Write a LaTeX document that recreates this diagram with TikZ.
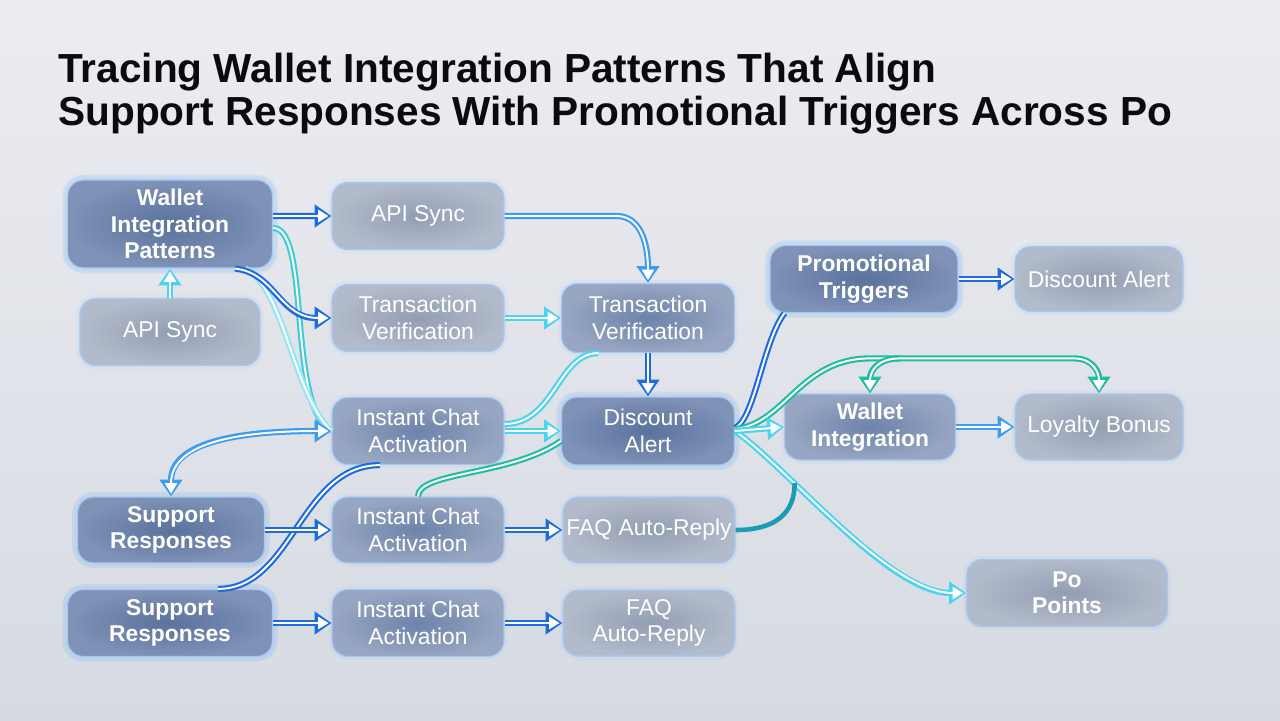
\documentclass[tikz,border=0pt]{standalone}
\usepackage{fontspec}
\setmainfont{Liberation Sans}
\usepackage{tikz}
\usetikzlibrary{positioning, arrows.meta}

\definecolor{bgtop}{HTML}{ECEDF1}
\definecolor{bgbot}{HTML}{D6DAE2}
\definecolor{edgeblue}{HTML}{A8C8F2}
\definecolor{glasslo}{HTML}{949EB3}
\definecolor{glasshi}{HTML}{B2BBCB}
\definecolor{mistlo}{HTML}{6E83AA}
\definecolor{misthi}{HTML}{97A6C2}
\definecolor{deeplo}{HTML}{5A729D}
\definecolor{deephi}{HTML}{7F92B7}
\definecolor{wblue}{HTML}{1D6BE0}
\definecolor{sky}{HTML}{3C9CF0}
\definecolor{cyanw}{HTML}{4CD3EE}
\definecolor{tealw}{HTML}{20BDA0}
\definecolor{deepteal}{HTML}{1A9DB0}
\definecolor{titleink}{HTML}{0B0B0E}

\begin{document}
\begin{tikzpicture}[
        x=0.02cm, y=-0.02cm,
        card/.style={rectangle, rounded corners=9pt, draw=edgeblue, line width=0.7pt, text=white, align=center, inner sep=2pt, font=\fontsize{13}{15}\selectfont, preaction={draw=sky!50!white, line width=4pt, draw opacity=0.15}},
        glass/.style={card, inner color=glasslo, outer color=glasshi},
        mist/.style={card, inner color=mistlo, outer color=misthi},
        deep/.style={card, inner color=deeplo, outer color=deephi, preaction={draw=sky, line width=6pt, draw opacity=0.12}},
        heavy/.style={font=\fontsize{13}{15}\selectfont\bfseries},
        wire/.style={draw=white, line width=1.1pt, preaction={draw=#1, line width=3.5pt}},
        feed/.style={draw=white, line width=1.1pt, -{Triangle[length=6pt, width=7pt, sep=1.6pt]}, preaction={draw=#1, line width=3.5pt, -{Triangle[length=9.5pt, width=12.5pt]}}},
        twofeed/.style={draw=white, line width=1.1pt, {Triangle[length=6pt, width=7pt, sep=1.6pt]}-{Triangle[length=6pt, width=7pt, sep=1.6pt]}, preaction={draw=#1, line width=3.5pt, {Triangle[length=9.5pt, width=12.5pt]}-{Triangle[length=9.5pt, width=12.5pt]}}}
    ]
%
    \useasboundingbox (0,0) rectangle (1280,720);
    \fill[top color=bgtop, bottom color=bgbot] (0,0) rectangle (1280,720);
%
    % Title
    \node[anchor=north west, inner sep=0pt, align=left, text=titleink, font=\fontsize{23.1}{24.5}\selectfont\bfseries] (title) at (58,53) {Tracing Wallet Integration Patterns That Align\\Support Responses With Promotional Triggers Across Po};
%
    % Nodes
    \node[deep, heavy, minimum width=4.1cm, minimum height=1.76cm] (wip) at (170,224) {Wallet\\Integration\\Patterns};
    \node[glass, minimum width=3.44cm, minimum height=1.34cm] (api1) at (418,216) {API Sync};
    \node[glass, minimum width=3.6cm, minimum height=1.34cm] (api2) at (170,332) {API Sync};
    \node[glass, minimum width=3.44cm, minimum height=1.34cm] (tv1) at (418,318) {Transaction\\Verification};
    \node[mist, minimum width=3.46cm, minimum height=1.38cm] (tv2) at (648,318) {Transaction\\Verification};
    \node[mist, minimum width=3.44cm, minimum height=1.34cm] (ica1) at (418,431) {Instant Chat\\Activation};
    \node[deep, minimum width=3.46cm, minimum height=1.36cm] (da) at (648,431) {Discount\\Alert};
    \node[deep, heavy, minimum width=3.76cm, minimum height=1.34cm] (pt) at (864,279) {Promotional\\Triggers};
    \node[glass, minimum width=3.36cm, minimum height=1.3cm] (da2) at (1099,279) {Discount Alert};
    \node[mist, heavy, minimum width=3.42cm, minimum height=1.32cm] (wi) at (870,427) {Wallet\\Integration};
    \node[glass, minimum width=3.36cm, minimum height=1.32cm] (lb) at (1099,427) {Loyalty Bonus};
    \node[deep, heavy, minimum width=3.74cm, minimum height=1.32cm] (sr1) at (171,530) {Support\\Responses};
    \node[mist, minimum width=3.44cm, minimum height=1.32cm] (ica2) at (418,530) {Instant Chat\\Activation};
    \node[glass, minimum width=3.44cm, minimum height=1.32cm] (faq1) at (649,530) {FAQ Auto-Reply};
    \node[deep, heavy, minimum width=4.1cm, minimum height=1.34cm] (sr2) at (170,623) {Support\\Responses};
    \node[mist, minimum width=3.44cm, minimum height=1.34cm] (ica3) at (418,623) {Instant Chat\\Activation};
    \node[glass, minimum width=3.44cm, minimum height=1.32cm] (faq2) at (649,623) {FAQ\\Auto-Reply};
    \node[glass, heavy, minimum width=4.02cm, minimum height=1.34cm] (po) at (1067,593) {Po\\Points};
%
    % Arrows
    \draw[feed=wblue] ([yshift=0.16cm]wip.east) -- (api1.west);
    \draw[feed=cyanw] (api2.north) -- (wip.south);
    \draw[wire=cyanw!70!tealw] ([yshift=-0.08cm]wip.east) .. controls +(38,0) and +(-45,-25) .. (ica1.west);
    \draw[wire=cyanw!60] ([xshift=1.5cm]wip.south) .. controls +(40,20) and +(-40,-40) .. (ica1.west);
    \draw[feed=wblue] ([xshift=1.3cm]wip.south) .. controls +(40,4) and +(-52,0) .. (tv1.west);
    \draw[feed=sky] (api1.east) -- +(112,0) .. controls +(28,0) and +(0,-30) .. (tv2.north);
    \draw[feed=cyanw] (tv1.east) -- (tv2.west);
    \draw[feed=wblue] (tv2.south) -- (da.north);
    \draw[wire=cyanw] ([yshift=0.14cm]ica1.east) .. controls +(50,0) and +(-40,0) .. ([xshift=-1cm]tv2.south);
    \draw[feed=cyanw] (ica1.east) -- (da.west);
    \draw[wire=tealw] (ica2.north) .. controls +(0,-25) and +(-50,35) .. ([yshift=-0.2cm]da.west);
    \draw[wire=wblue] ([xshift=0.96cm]sr2.north) .. controls +(75,0) and +(-80,0) .. ([xshift=-0.76cm]ica1.south);
    \draw[twofeed=sky] (sr1.north) .. controls +(0,-55) and +(-90,0) .. (ica1.west);
    \draw[feed=wblue] (sr1.east) -- (ica2.west);
    \draw[feed=wblue] (ica2.east) -- (faq1.west);
    \draw[feed=wblue] (sr2.east) -- (ica3.west);
    \draw[feed=wblue] (ica3.east) -- (faq2.west);
%
    % Fan out of the discount alert
    \draw[wire=wblue] ([yshift=0.06cm]da.east) .. controls +(20,-10) and +(-22,30) .. ([xshift=0.3cm]pt.south west);
    \draw[feed=cyanw] (da.east) .. controls +(55,39) and +(-77,0) .. (po.west) coordinate[pos=0.3] (meet);
    \draw[line width=2.6pt, deepteal] (faq1.east) .. controls +(40,0) and +(0,30) .. (meet);
    \draw[feed=tealw] ([yshift=0.04cm]da.east) .. controls +(50,-5) and +(-70,0) .. ([yshift=0.7cm]wi.north) -- ([xshift=-0.5cm, yshift=0.7cm]lb.north) .. controls +(20,0) and +(0,-20) .. (lb.north);
    \draw[feed=tealw] ([xshift=0.6cm, yshift=0.7cm]wi.north) .. controls +(-25,0) and +(0,-20) .. (wi.north);
    \draw[feed=cyanw] (da.east) -- (wi.west);
    \draw[feed=wblue] (pt.east) -- (da2.west);
    \draw[feed=sky] (wi.east) -- (lb.west);
%
\end{tikzpicture}
\end{document}
